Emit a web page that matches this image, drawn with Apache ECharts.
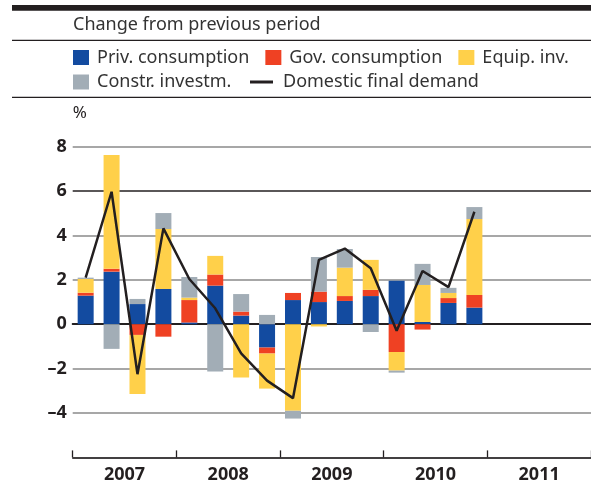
<!DOCTYPE html>
<html>
<head>
<meta charset="utf-8">
<script src="https://cdn.jsdelivr.net/npm/echarts@6/dist/echarts.min.js"></script>
<style>
    html, body { margin: 0; padding: 0; background: #fff; }
    #mychart { width: 591px; height: 486px; }
</style>
</head>
<body>
<div id="mychart"></div>
<script>
// quarters 2007Q1 .. 2011Q4 (2011 has no data yet)
var years = ['2007', '2008', '2009', '2010', '2011'];
var quarters = [];
years.forEach(function (y) {
    ['Q1', 'Q2', 'Q3', 'Q4'].forEach(function (q) { quarters.push(y + q); });
});

var privCons = [1.29, 2.37, 0.91, 1.59, 0.08, 1.74, 0.39, -1.05, 1.09, 1.0, 1.05, 1.27, 1.96, 0.1, 0.96, 0.75];
var govCons = [0.13, 0.13, -0.48, -0.56, 1.01, 0.5, 0.18, -0.27, 0.32, 0.47, 0.22, 0.28, -1.25, -0.24, 0.22, 0.57];
var equipInv = [0.62, 5.13, -2.66, 2.7, 0.11, 0.84, -2.4, -1.58, -3.9, -0.1, 1.28, 1.35, -0.84, 1.67, 0.23, 3.42];
var constrInv = [0.06, -1.11, 0.23, 0.72, 0.93, -2.13, 0.79, 0.42, -0.35, 1.56, 0.84, -0.35, -0.09, 0.95, 0.23, 0.54];
var domDemand = [2.1, 5.97, -2.25, 4.32, 2.04, 0.72, -1.31, -2.54, -3.33, 2.9, 3.41, 2.52, -0.29, 2.4, 1.67, 5.07];

var yTicks = { min: -6, max: 8, step: 2 };

var ink = '#231f20';
var txt = '#333333';
var font = '"Noto Sans", sans-serif';

function barSeries(name, data, color) {
    return {
        name: name,
        type: 'bar',
        stack: 'parts',
        barWidth: 16,
        xAxisIndex: 0,
        itemStyle: { color: color },
        data: data
    };
}

var mychart = echarts.init(document.getElementById('mychart'));
var legendText = { color: txt, fontSize: 18, fontFamily: font };

var option = {
    animation: false,
    textStyle: { fontFamily: font },
    grid: { left: 72.7, top: 146.7, width: 525, height: 310.7, containLabel: false },
    graphic: [
        { type: 'rect', shape: { x: 12, y: 5, width: 579, height: 5.7 }, style: { fill: ink } },
        { type: 'text', x: 73, y: 25, style: { text: 'Change from previous period', fill: txt, font: '18px ' + font, textVerticalAlign: 'middle' } },
        { type: 'line', shape: { x1: 12, y1: 40.3, x2: 591, y2: 40.3 }, style: { stroke: ink, lineWidth: 1.3 } },
        { type: 'line', shape: { x1: 12, y1: 97.3, x2: 591, y2: 97.3 }, style: { stroke: ink, lineWidth: 1.3 } }
    ],
    legend: [
        {
            left: 73, top: 48.5, padding: 0, itemGap: 16, itemWidth: 16, itemHeight: 15, selectedMode: false,
            icon: 'rect',
            data: ['Priv. consumption', 'Gov. consumption', 'Equip. inv.'],
            textStyle: Object.assign({ padding: [0, 0, 0, 3] }, legendText)
        },
        {
            left: 73, top: 73, padding: 0, itemWidth: 16, itemHeight: 15, selectedMode: false,
            icon: 'rect',
            data: ['Constr. investm.'],
            textStyle: Object.assign({ padding: [0, 0, 0, 3] }, legendText)
        },
        {
            left: 250, top: 73, padding: 0, itemWidth: 23, itemHeight: 3, selectedMode: false,
            icon: 'rect',
            data: ['Domestic final demand'],
            textStyle: Object.assign({ padding: [0, 0, 0, 5] }, legendText)
        }
    ],
    xAxis: [
        {
            // quarterly axis: carries the data, draws only the zero line
            type: 'category',
            data: quarters,
            boundaryGap: true,
            axisLine: { show: true, onZero: true, lineStyle: { color: ink, width: 2 } },
            axisTick: { show: false },
            axisLabel: { show: false },
            splitLine: { show: false }
        },
        {
            // yearly axis at the bottom, labels only
            type: 'category',
            position: 'bottom',
            data: years,
            boundaryGap: true,
            axisLine: { show: true, onZero: false, lineStyle: { color: ink, width: 1.5 } },
            axisTick: { show: true, inside: true, length: 7, lineStyle: { color: ink, width: 1.3 } },
            axisLabel: { color: ink, fontSize: 18, fontWeight: 'bold', margin: 8 },
            splitLine: { show: false }
        }
    ],
    yAxis: {
        type: 'value',
        min: yTicks.min,
        max: yTicks.max,
        interval: yTicks.step,
        name: '%',
        nameLocation: 'end',
        nameGap: 34,
        nameTextStyle: { color: ink, fontSize: 17, align: 'left', verticalAlign: 'middle' },
        axisLine: { show: false },
        axisTick: { show: false },
        axisLabel: {
            color: ink, fontSize: 18, fontWeight: 'bold', margin: 6,
            formatter: function (v) {
                if (v === yTicks.min) return '';
                return v < 0 ? '–' + Math.abs(v) : String(v);
            }
        },
        splitLine: {
            show: true,
            lineStyle: {
                color: ['#8a8a8a', '#8a8a8a', '#8a8a8a', ink, '#8a8a8a', '#8a8a8a', ink, '#8a8a8a'],
                width: 1.5
            }
        }
    },
    series: [
        barSeries('Priv. consumption', privCons, '#134ba0'),
        barSeries('Gov. consumption', govCons, '#ef4123'),
        barSeries('Equip. inv.', equipInv, '#ffd04a'),
        barSeries('Constr. investm.', constrInv, '#a2adb6'),
        {
            name: 'Domestic final demand',
            type: 'line',
            xAxisIndex: 0,
            symbol: 'none',
            itemStyle: { color: ink },
            lineStyle: { color: ink, width: 2.5 },
            data: domDemand
        }
    ]
};
mychart.setOption(option);
</script>
</body>
</html>
